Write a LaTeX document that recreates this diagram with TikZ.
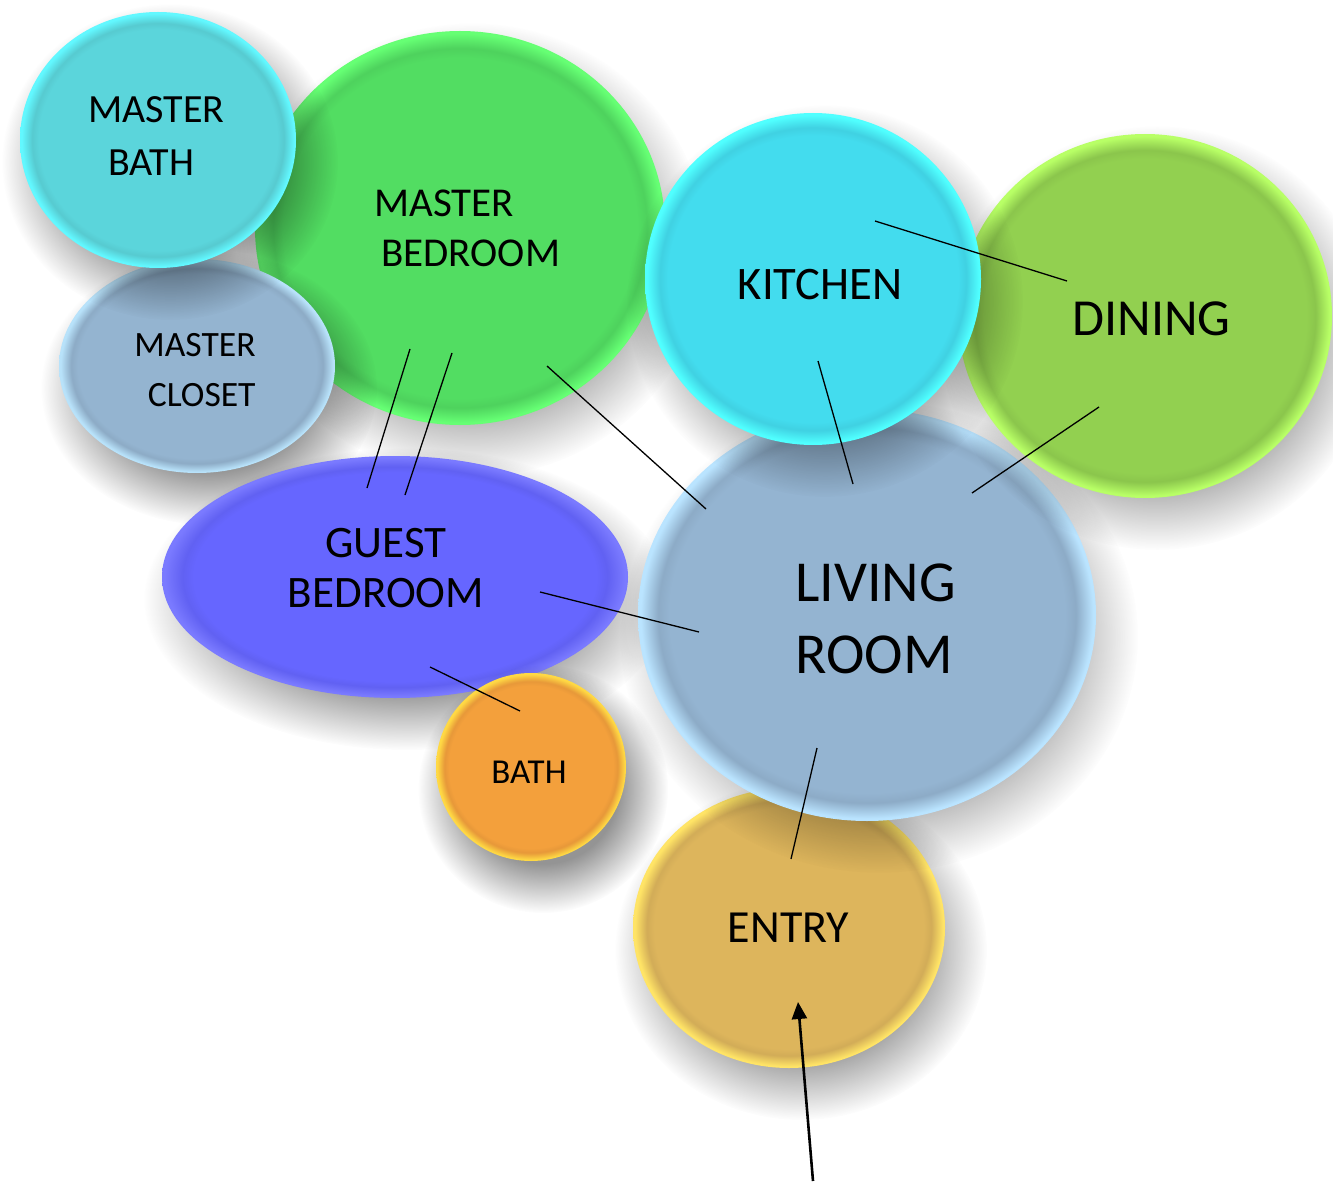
\documentclass[tikz,border=0pt]{standalone}
\usepackage{fontspec}
\setmainfont{Carlito}
\usetikzlibrary{shapes.geometric,fadings,arrows.meta}

\definecolor{mbathC}{HTML}{5BD5DB}\definecolor{mbathR}{HTML}{62F8FF}
\definecolor{mbedC}{HTML}{52DD62}\definecolor{mbedR}{HTML}{66FF74}
\definecolor{closetC}{HTML}{94B4D0}\definecolor{closetR}{HTML}{B8E2FA}
\definecolor{kitchenC}{HTML}{43DCEE}\definecolor{kitchenR}{HTML}{50FFFF}
\definecolor{diningC}{HTML}{92D050}\definecolor{diningR}{HTML}{B8FF66}
\definecolor{guestC}{HTML}{6666FF}\definecolor{guestR}{HTML}{7A7AFF}
\definecolor{livingC}{HTML}{94B4D1}\definecolor{livingR}{HTML}{BAE4FF}
\definecolor{bathC}{HTML}{F3A03C}\definecolor{bathR}{HTML}{FFD944}
\definecolor{entryC}{HTML}{DDB55C}\definecolor{entryR}{HTML}{FFE466}

\newcommand\mkbub[3]{\pgfdeclareradialshading{bub#1}{\pgfpointorigin}{%
  color(0bp)=(#2);color(21.6bp)=(#2);color(22.8bp)=(#2!95!black);%
  color(24.7bp)=(#3);color(25bp)=(#3);color(50bp)=(#3)}}
\mkbub{mbath}{mbathC}{mbathR}
\mkbub{mbed}{mbedC}{mbedR}
\mkbub{closet}{closetC}{closetR}
\mkbub{kitchen}{kitchenC}{kitchenR}
\mkbub{dining}{diningC}{diningR}
\mkbub{guest}{guestC}{guestR}
\mkbub{living}{livingC}{livingR}
\mkbub{bath}{bathC}{bathR}
\mkbub{entry}{entryC}{entryR}

\pgfdeclareradialshading{shfadeS}{\pgfpointorigin}{%
  color(0bp)=(pgftransparent!0);color(15bp)=(pgftransparent!0);%
  color(25bp)=(pgftransparent!100);color(50bp)=(pgftransparent!100)}
\pgfdeclarefading{shfade}{\pgfuseshading{shfadeS}}

\tikzset{
  softshadow/.style={fill=black, fill opacity=0.42, path fading=shfade},
  bubblenode/.style={ellipse, inner sep=0pt, outer sep=0pt, shade},
  lbl/.style={inner sep=0pt, text=black},
  link/.style={draw=black, line width=0.65pt},
  entrance/.style={draw=black, line width=1.3pt, -{Triangle[length=8.5pt,width=7.5pt]}}
}

% name, x, y, rx, ry (pixels)
\newcommand\bubble[5]{%
  \fill[softshadow] (#2+12,#3+22) ellipse [x radius=#4+30, y radius=#5+30];
  \node[bubblenode, shading=bub#1, minimum width=#4pt, minimum height=#5pt] (#1) at (#2,#3) {};
}

\begin{document}
\begin{tikzpicture}[x=0.5pt, y=-0.5pt]
\useasboundingbox (0,0) rectangle (1333,1182);
\fill[white] (0,0) rectangle (1333,1182);

\bubble{mbed}{460}{228}{205}{197}
\bubble{closet}{197}{366}{138}{107}
\bubble{mbath}{158}{140}{138}{128}
\bubble{guest}{395}{577}{233}{121}
\bubble{bath}{531}{767}{95}{94}
\bubble{entry}{789}{928}{156}{140}
\bubble{living}{867}{615}{229}{206}
\bubble{dining}{1145}{316}{187}{182}
\bubble{kitchen}{813}{279}{168}{166}

% labels
\node[lbl, font={\fontsize{20pt}{26.5pt}\selectfont}, align=left, anchor=west] (mbathtext) at (88,136) {MASTER\\\hspace*{10pt}BATH};
\node[lbl, font={\fontsize{20.5pt}{25pt}\selectfont}, align=left, anchor=west] (mbedtext) at (374,228.5) {MASTER\\\hspace*{3.5pt}BEDROOM};
\node[lbl, font={\fontsize{17.8pt}{25pt}\selectfont}, align=right, anchor=east] (closettext) at (256,370.5) {MASTER\\CLOSET};
\node[lbl, font={\fontsize{23.3pt}{28pt}\selectfont}] (kitchentext) at (820,284.5) {KITCHEN};
\node[lbl, font={\fontsize{26pt}{31pt}\selectfont}] (diningtext) at (1151.5,318.5) {DINING};
\node[lbl, font={\fontsize{22.5pt}{25pt}\selectfont}, align=center] (guesttext) at (386,568.5) {GUEST\\BEDROOM};
\node[lbl, font={\fontsize{29pt}{36pt}\selectfont}, align=left, anchor=west] (livingtext) at (795,619) {LIVING\\ROOM};
\node[lbl, font={\fontsize{17.5pt}{21pt}\selectfont}] (bathtext) at (529,772.5) {BATH};
\node[lbl, font={\fontsize{23pt}{28pt}\selectfont}] (entrytext) at (788.5,927.5) {ENTRY};

% connector end points
\coordinate (kd1) at (875,221);   \coordinate (kd2) at (1067,281);
\coordinate (kl1) at (818,361);   \coordinate (kl2) at (853,484);
\coordinate (dl1) at (1099,407);  \coordinate (dl2) at (972,493);
\coordinate (ml1) at (547,366);   \coordinate (ml2) at (706,509);
\coordinate (mg1) at (410,349);   \coordinate (mg2) at (367,488);
\coordinate (mg3) at (452,353);   \coordinate (mg4) at (405,495);
\coordinate (gl1) at (540,592);   \coordinate (gl2) at (699,632);
\coordinate (gb1) at (430,667);   \coordinate (gb2) at (520,711);
\coordinate (le1) at (817,748);   \coordinate (le2) at (791,859);
\coordinate (door) at (813,1181); \coordinate (entryin) at (798,1002);

\draw[link] (kd1) -- (kd2);
\draw[link] (kl1) -- (kl2);
\draw[link] (dl1) -- (dl2);
\draw[link] (ml1) -- (ml2);
\draw[link] (mg1) -- (mg2);
\draw[link] (mg3) -- (mg4);
\draw[link] (gl1) -- (gl2);
\draw[link] (gb1) -- (gb2);
\draw[link] (le1) -- (le2);
\draw[entrance] (door) -- (entryin);
\end{tikzpicture}
\end{document}
